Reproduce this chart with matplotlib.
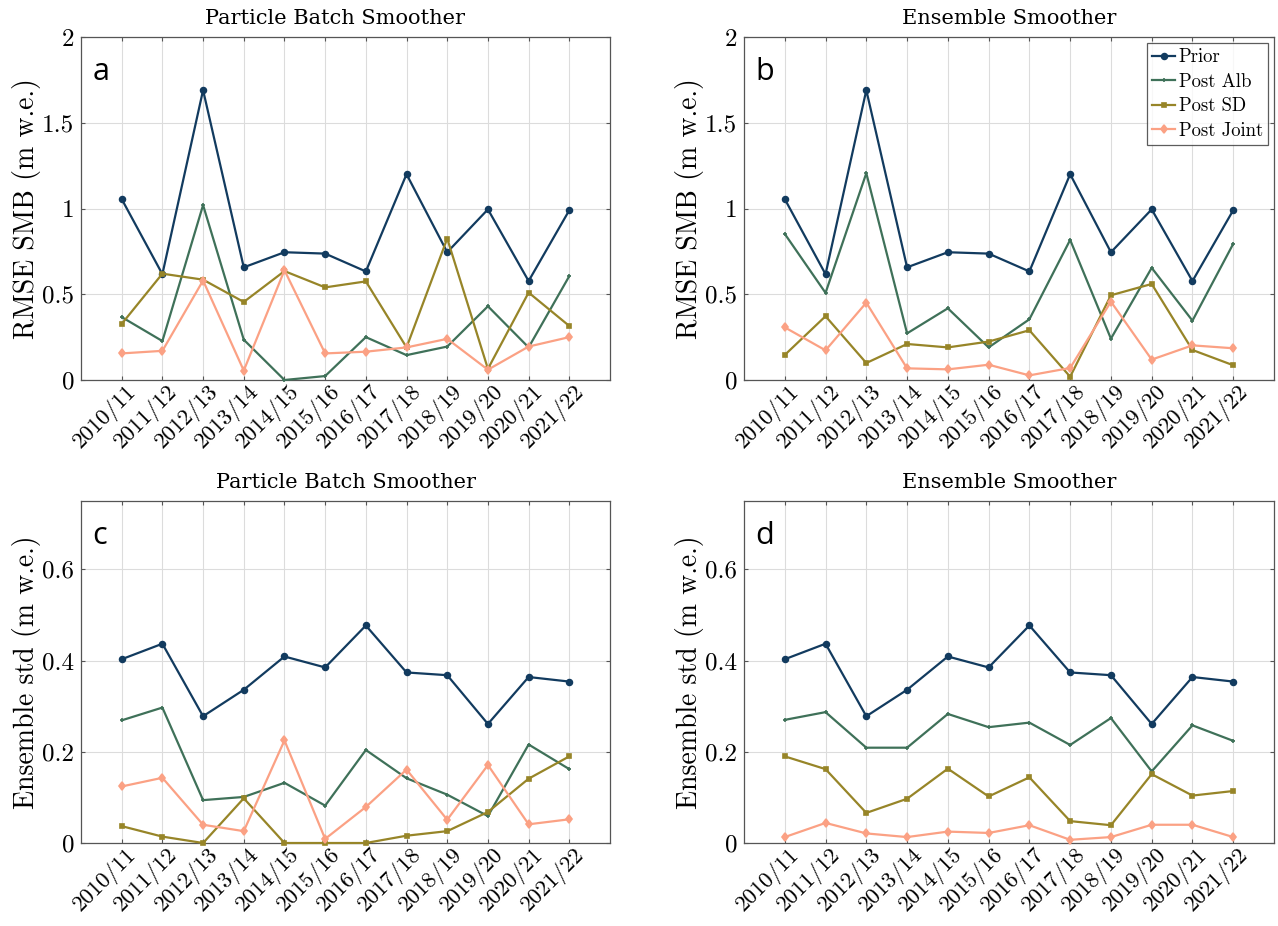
import numpy as np
import matplotlib
matplotlib.use("Agg")
import matplotlib.pyplot as plt
import matplotlib.transforms as mtransforms

seasons = ['2010/11', '2011/12', '2012/13', '2013/14', '2014/15', '2015/16',
           '2016/17', '2017/18', '2018/19', '2019/20', '2020/21', '2021/22']

# RMSE of SMB (m w.e.)
rmse_prior = [1.055, 0.617, 1.69, 0.657, 0.745, 0.737, 0.633, 1.20, 0.745, 0.995, 0.577, 0.99]
pbs_rmse_alb = [0.367, 0.227, 1.02, 0.235, 0.0, 0.023, 0.25, 0.145, 0.195, 0.43, 0.19, 0.606]
pbs_rmse_sd = [0.327, 0.62, 0.585, 0.455, 0.635, 0.54, 0.575, 0.19, 0.825, 0.065, 0.51, 0.315]
pbs_rmse_joint = [0.155, 0.17, 0.58, 0.055, 0.64, 0.155, 0.165, 0.19, 0.24, 0.06, 0.195, 0.25]
es_rmse_alb = [0.852, 0.508, 1.206, 0.272, 0.418, 0.19, 0.354, 0.817, 0.241, 0.654, 0.346, 0.794]
es_rmse_sd = [0.146, 0.372, 0.099, 0.21, 0.19, 0.224, 0.29, 0.019, 0.494, 0.56, 0.175, 0.086]
es_rmse_joint = [0.307, 0.173, 0.451, 0.068, 0.062, 0.089, 0.027, 0.07, 0.457, 0.119, 0.202, 0.185]

# ensemble std (m w.e.)
std_prior = [0.403, 0.437, 0.278, 0.336, 0.409, 0.385, 0.477, 0.374, 0.368, 0.261, 0.364, 0.354]
pbs_std_alb = [0.269, 0.297, 0.094, 0.101, 0.132, 0.082, 0.204, 0.142, 0.106, 0.059, 0.216, 0.162]
pbs_std_sd = [0.037, 0.014, 0.0, 0.098, 0.0, 0.0, 0.0, 0.016, 0.026, 0.068, 0.141, 0.19]
pbs_std_joint = [0.124, 0.143, 0.04, 0.026, 0.225, 0.009, 0.079, 0.161, 0.051, 0.171, 0.041, 0.052]
es_std_alb = [0.270, 0.287, 0.209, 0.209, 0.283, 0.254, 0.264, 0.215, 0.274, 0.157, 0.258, 0.224]
es_std_sd = [0.19, 0.162, 0.066, 0.097, 0.163, 0.102, 0.144, 0.048, 0.039, 0.151, 0.104, 0.114]
es_std_joint = [0.013, 0.044, 0.021, 0.013, 0.025, 0.022, 0.039, 0.007, 0.013, 0.04, 0.04, 0.013]

names = ['Prior', 'Post Alb', 'Post SD', 'Post Joint']
colors = ['#123b5f', '#3f7159', '#978528', '#fba184']
markers = ['o', '+', 's', 'd']
msizes = [4.2, 3.5, 3.5, 4.5]

plt.rcParams['font.family'] = 'cmr10'
plt.rcParams['axes.unicode_minus'] = False
plt.rcParams['mathtext.fontset'] = 'cm'

fig = plt.figure(figsize=(12.78, 9.26), dpi=100)

W, H = 1278, 926
def box(l, r, t, b):
    return [l / W, (H - b) / H, (r - l) / W, (b - t) / H]

panels = [
    dict(pos=box(81, 610, 37, 380), title='Particle Batch Smoother', tx=0.48, lab='a',
         data=[rmse_prior, pbs_rmse_alb, pbs_rmse_sd, pbs_rmse_joint],
         ylim=(0, 2), yticks=[0, 0.5, 1, 1.5, 2], yticklabels=['0', '0.5', '1', '1.5', '2'],
         ylabel='RMSE SMB (m w.e.)', legend=False),
    dict(pos=box(744, 1274, 37, 380), title='Ensemble Smoother', tx=0.5, lab='b',
         data=[rmse_prior, es_rmse_alb, es_rmse_sd, es_rmse_joint],
         ylim=(0, 2), yticks=[0, 0.5, 1, 1.5, 2], yticklabels=['0', '0.5', '1', '1.5', '2'],
         ylabel='RMSE SMB (m w.e.)', legend=True),
    dict(pos=box(81, 610, 501, 843), title='Particle Batch Smoother', tx=0.5, lab='c',
         data=[std_prior, pbs_std_alb, pbs_std_sd, pbs_std_joint],
         ylim=(0, 0.75), yticks=[0, 0.2, 0.4, 0.6], yticklabels=['0', '0.2', '0.4', '0.6'],
         ylabel='Ensemble std (m w.e.)', legend=False),
    dict(pos=box(744, 1274, 501, 843), title='Ensemble Smoother', tx=0.5, lab='d',
         data=[std_prior, es_std_alb, es_std_sd, es_std_joint],
         ylim=(0, 0.75), yticks=[0, 0.2, 0.4, 0.6], yticklabels=['0', '0.2', '0.4', '0.6'],
         ylabel='Ensemble std (m w.e.)', legend=False),
]

x = np.arange(1, len(seasons) + 1)
shift = mtransforms.ScaledTranslation(12 / 100, 0, fig.dpi_scale_trans)

for p in panels:
    ax = fig.add_axes(p['pos'])
    for vals, name, c, m, ms in zip(p['data'], names, colors, markers, msizes):
        ax.plot(x, vals, color=c, marker=m, markersize=ms, lw=1.6,
                markeredgewidth=1.2, label=name, clip_on=False, zorder=3)
    ax.set_xlim(0, 13)
    ax.set_ylim(*p['ylim'])
    ax.set_xticks(x)
    ax.set_xticklabels(seasons, rotation=45, ha='right', va='center',
                       rotation_mode='anchor', fontsize=16.5)
    ax.set_yticks(p['yticks'])
    ax.set_yticklabels(p['yticklabels'], fontsize=18)
    ax.set_ylabel(p['ylabel'], fontsize=20, labelpad=1)
    ax.set_title(p['title'], fontsize=15, family='DejaVu Serif', pad=9, x=p['tx'])
    ax.grid(True, color='#dcdcdc', lw=0.8)
    ax.set_axisbelow(True)
    ax.tick_params(direction='in', top=True, right=True, length=3,
                   color='#555555')
    ax.tick_params(axis='x', pad=6)
    ax.tick_params(axis='y', pad=5)
    # nudge the rotated season labels to the right, as in the original
    for lbl in ax.xaxis.get_majorticklabels():
        lbl.set_transform(lbl.get_transform() + shift)
    for s in ax.spines.values():
        s.set_color('#555555')
        s.set_linewidth(0.9)
    ax.text(0.022, 0.875, p['lab'], transform=ax.transAxes, fontsize=22,
            family='Open Sans', va='baseline', ha='left')
    if p['legend']:
        leg = ax.legend(loc='upper right', fontsize=13.5, frameon=True, fancybox=False,
                        edgecolor='#333333', handlelength=1.2, handletextpad=0.2,
                        labelspacing=0.35, borderpad=0.3, borderaxespad=0.3)
        leg.get_frame().set_linewidth(0.9)

fig.savefig('out.png', dpi=100)
